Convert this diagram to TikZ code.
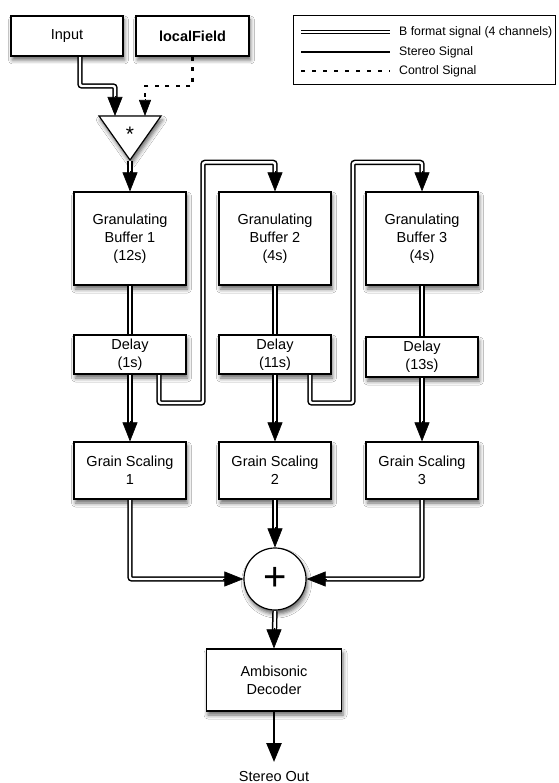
\documentclass[tikz,border=0pt]{standalone}
\usepackage{fontspec}
\setmainfont{Liberation Sans}
\usetikzlibrary{arrows.meta,shadows.blur}

\begin{document}
\begin{tikzpicture}[x=1pt,y=-1pt,
  every node/.style={font=\fontsize{14.5}{18}\selectfont, align=center},
  shadowed/.style={blur shadow={shadow xshift=1.5pt, shadow yshift=-4pt,
      shadow blur radius=4pt, shadow opacity=60}},
  block/.style={draw, line width=1.2pt, fill=white, shadowed,
      minimum width=112pt, inner sep=0pt},
  bline/.style={draw, line width=1.5pt, double=white, double distance=2.4pt,
      rounded corners=2pt, shorten <=0.6pt},
  bthin/.style={draw, line width=0.8pt, double=white, double distance=1.6pt},
  stereo/.style={draw, line width=2.5pt},
  ctrl/.style={draw, line width=2.2pt, dash pattern=on 4pt off 6.5pt},
  tip/.style={line width=0.6pt, -{Triangle[length=19pt,width=15pt,fill=black]}},
  tipsmall/.style={line width=0.6pt, -{Triangle[length=16pt,width=12pt,fill=black]}},
  legendtext/.style={font=\fontsize{12.3}{14}\selectfont, anchor=west, inner sep=2pt}
]
\fill[white] (0,0) rectangle (558,783);
\useasboundingbox (0,0) rectangle (558,783);

% sources
\node[block, minimum width=112pt, minimum height=40pt] (in) at (67,36) {Input};
\node[block, minimum width=113pt, minimum height=40pt, font=\fontsize{14.5}{18}\selectfont\bfseries]
  (lf) at (192.5,36) {localField};

% legend
\node[draw, line width=0.8pt, minimum width=262pt, minimum height=69pt, inner sep=0pt]
  (legend) at (424,49.5) {};
\draw[bthin] (301,32) -- (390,32);
\node[legendtext] (lgb) at (397,32) {B format signal (4 channels)};
\draw[stereo, line width=2pt] (301,52) -- (390,52);
\node[legendtext] (lgs) at (397,52) {Stereo Signal};
\draw[ctrl, line width=2pt, dash pattern=on 3.5pt off 7.5pt] (301,71) -- (390,71);
\node[legendtext] (lgc) at (397,71) {Control Signal};

% multiplier
\draw[line width=1.2pt, fill=white, shadowed, line join=miter]
  (99,116) -- (161,116) -- (130,160) -- cycle;
\coordinate (mulin1) at (115,116);
\coordinate (mulin2) at (145,116);
\coordinate (mulout) at (130,160);
\node[inner sep=0pt, font=\fontsize{21}{21}\selectfont] (mul) at (130,134) {*};

% granulating buffers
\node[block, minimum height=93pt] (gb1) at (130,238.5) {Granulating\\Buffer 1\\(12s)};
\node[block, minimum height=93pt] (gb2) at (275,238.5) {Granulating\\Buffer 2\\(4s)};
\node[block, minimum height=93pt] (gb3) at (422,238.5) {Granulating\\Buffer 3\\(4s)};

% delays
\node[block, minimum height=39pt] (dl1) at (130,354.5) {Delay\\(1s)};
\node[block, minimum height=39pt] (dl2) at (275,354.5) {Delay\\(11s)};
\node[block, minimum height=40pt] (dl3) at (422,357) {Delay\\(13s)};

% grain scaling
\node[block, minimum height=57pt] (gs1) at (130,470.5) {Grain Scaling\\1};
\node[block, minimum height=57pt] (gs2) at (275,470.5) {Grain Scaling\\2};
\node[block, minimum height=57pt] (gs3) at (422,470.5) {Grain Scaling\\3};

% summing point
\node[circle, draw, line width=1.2pt, fill=white, shadowed, minimum size=62pt, inner sep=0pt,
  font=\fontsize{40}{40}\selectfont] (sum) at (275,579) {+};

% decoder and output
\node[block, minimum width=135pt, minimum height=62pt] (dec) at (274,680) {Ambisonic\\Decoder};
\node[anchor=north, inner sep=0pt] (out) at (274,771) {Stereo Out};

% input -> multiplier
\draw[bline, shorten >=14pt] ([xshift=13pt]in.south) |- (115,86) -- (mulin1);
\draw[tip] ([yshift=20pt]mulin1) -- (mulin1);
% control -> multiplier
\draw[ctrl, shorten >=12pt] (lf.south) |- (145,86) -- (mulin2);
\draw[tipsmall] ([yshift=17pt]mulin2) -- (mulin2);
% multiplier -> buffer 1
\draw[bline, shorten >=14pt, shorten <=1pt] (mulout) -- (gb1.north);
\draw[tip] ([yshift=20pt]gb1.north) -- (gb1.north);

% buffers -> delays
\draw[bline, shorten >=0.6pt] (gb1.south) -- (dl1.north);
\draw[bline, shorten >=0.6pt] (gb2.south) -- (dl2.north);
\draw[bline, shorten >=0.6pt] (gb3.south) -- (dl3.north);

% delays -> grain scaling
\draw[bline, shorten >=14pt] (dl1.south) -- (gs1.north);
\draw[tip] ([yshift=20pt]gs1.north) -- (gs1.north);
\draw[bline, shorten >=14pt] (dl2.south) -- (gs2.north);
\draw[tip] ([yshift=20pt]gs2.north) -- (gs2.north);
\draw[bline, shorten >=14pt] (dl3.south) -- (gs3.north);
\draw[tip] ([yshift=20pt]gs3.north) -- (gs3.north);

% feedback chains: delay -> next buffer
\draw[bline, shorten >=14pt] ([xshift=29pt]dl1.south) |- (203,403)
  |- ([yshift=29pt]gb2.north) -- (gb2.north);
\draw[tip] ([yshift=20pt]gb2.north) -- (gb2.north);
\draw[bline, shorten >=14pt] ([xshift=35pt]dl2.south) |- (353,403)
  |- ([yshift=29pt]gb3.north) -- (gb3.north);
\draw[tip] ([yshift=20pt]gb3.north) -- (gb3.north);

% grain scaling -> sum
\draw[bline, shorten >=14pt] (gs1.south) |- (sum.west);
\draw[tip] ([xshift=-20pt]sum.west) -- (sum.west);
\draw[bline, shorten >=14pt] (gs2.south) -- (sum.north);
\draw[tip] ([yshift=20pt]sum.north) -- (sum.north);
\draw[bline, shorten >=14pt] (gs3.south) |- (sum.east);
\draw[tip] ([xshift=20pt]sum.east) -- (sum.east);

% sum -> decoder -> output
\draw[bline, shorten >=14pt, shorten <=0.6pt] (sum.south) -- (dec.north);
\draw[tip] ([yshift=20pt]dec.north) -- (dec.north);
\draw[stereo, -{Triangle[length=19pt,width=15pt,fill=black]}, shorten >=9pt] (dec.south) -- (out.north);
\end{tikzpicture}
\end{document}
